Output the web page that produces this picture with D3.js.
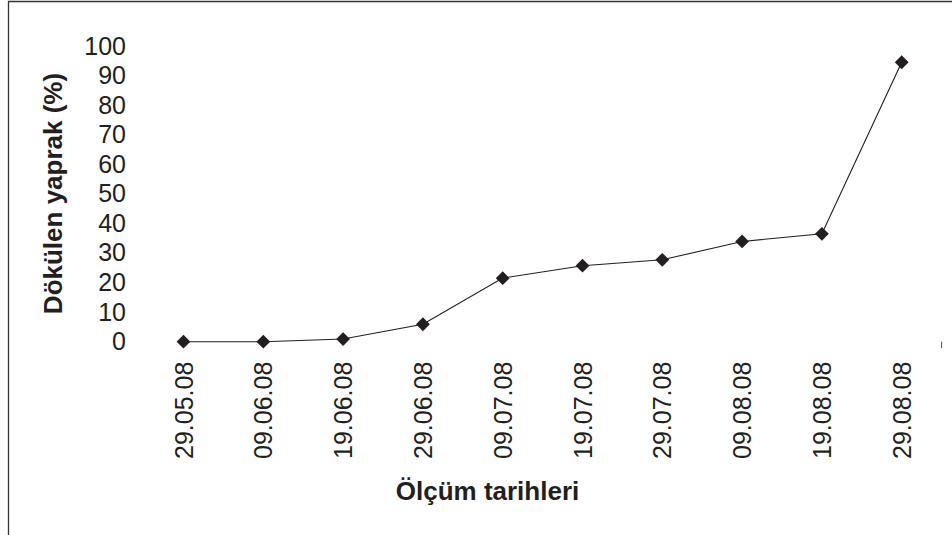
<!DOCTYPE html>
<html>
<head>
<meta charset="utf-8">
<script src="https://cdn.jsdelivr.net/npm/d3@7"></script>
<style>
  body { margin: 0; background: #fff; }
  svg { display: block; font-family: "Liberation Sans", Arial, sans-serif; }
</style>
</head>
<body>
<script>
// measurement dates and fallen leaf share
const dates = ["29.05.08", "09.06.08", "19.06.08", "29.06.08", "09.07.08",
               "19.07.08", "29.07.08", "09.08.08", "19.08.08", "29.08.08"];
const values = [0, 0, 0.9, 5.9, 21.5, 25.7, 27.7, 33.9, 36.5, 94.5];
const yTicks = [0, 10, 20, 30, 40, 50, 60, 70, 80, 90, 100];

const w = 952, h = 535;
const ink = "#231f20";

const svg = d3.select("body").append("svg")
  .attr("width", w)
  .attr("height", h);

// frame (only top and left edges are inside the picture)
svg.append("path")
  .attr("d", "M8.5,535 V1.5 H952")
  .attr("fill", "none")
  .attr("stroke", "#333")
  .attr("stroke-width", 1.3);

const xScale = d3.scaleBand()
  .domain(dates)
  .range([143.6, 941.6])
  .padding(0);

const yScale = d3.scaleLinear()
  .domain([0, 100])
  .range([341.7, 46]);

const cx = d => xScale(d) + xScale.bandwidth() / 2;

// y axis: labels only
const yAxis = d3.axisLeft(yScale)
  .tickValues(yTicks)
  .tickSize(0)
  .tickPadding(17.6);

const gy = svg.append("g")
  .attr("transform", "translate(" + xScale.range()[0] + ",0)")
  .call(yAxis);
gy.select(".domain").remove();
gy.selectAll("text")
  .attr("fill", ink)
  .style("font-size", "25px");

// x axis: rotated labels
const xAxis = d3.axisBottom(xScale)
  .tickSize(0)
  .tickPadding(0);

const gx = svg.append("g")
  .attr("transform", "translate(0," + yScale(0) + ")")
  .call(xAxis);
gx.select(".domain").remove();
gx.selectAll("text")
  .attr("fill", ink)
  .style("font-size", "25px")
  .attr("text-anchor", "end")
  .attr("transform", "rotate(-90)")
  .attr("x", -20)
  .attr("y", 0)
  .attr("dy", "0.36em");

// lone tick at the right end of the category axis
const xEnd = xScale.range()[1];
svg.append("line")
  .attr("x1", xEnd).attr("x2", xEnd)
  .attr("y1", yScale(0)).attr("y2", yScale(0) + 6.5)
  .attr("stroke", "#555")
  .attr("stroke-width", 1);

// series line
const line = d3.line()
  .x((d, i) => cx(dates[i]))
  .y(d => yScale(d));

svg.append("path")
  .datum(values)
  .attr("d", line)
  .attr("fill", "none")
  .attr("stroke", ink)
  .attr("stroke-width", 1.1);

// diamond markers
const diamond = d3.symbol().type(d3.symbolSquare).size(95);
svg.selectAll(".pt")
  .data(values)
  .enter()
  .append("path")
  .attr("class", "pt")
  .attr("d", diamond)
  .attr("transform", (d, i) => "translate(" + cx(dates[i]) + "," + yScale(d) + ") rotate(45)")
  .attr("fill", ink);

// axis titles
svg.append("text")
  .attr("x", 487.5)
  .attr("y", 500)
  .attr("text-anchor", "middle")
  .attr("fill", ink)
  .style("font-size", "26px")
  .style("font-weight", "bold")
  .text("Ölçüm tarihleri");

svg.append("text")
  .attr("transform", "translate(62,193.5) rotate(-90)")
  .attr("text-anchor", "middle")
  .attr("fill", ink)
  .style("font-size", "26px")
  .style("font-weight", "bold")
  .text("Dökülen yaprak (%)");
</script>
</body>
</html>
